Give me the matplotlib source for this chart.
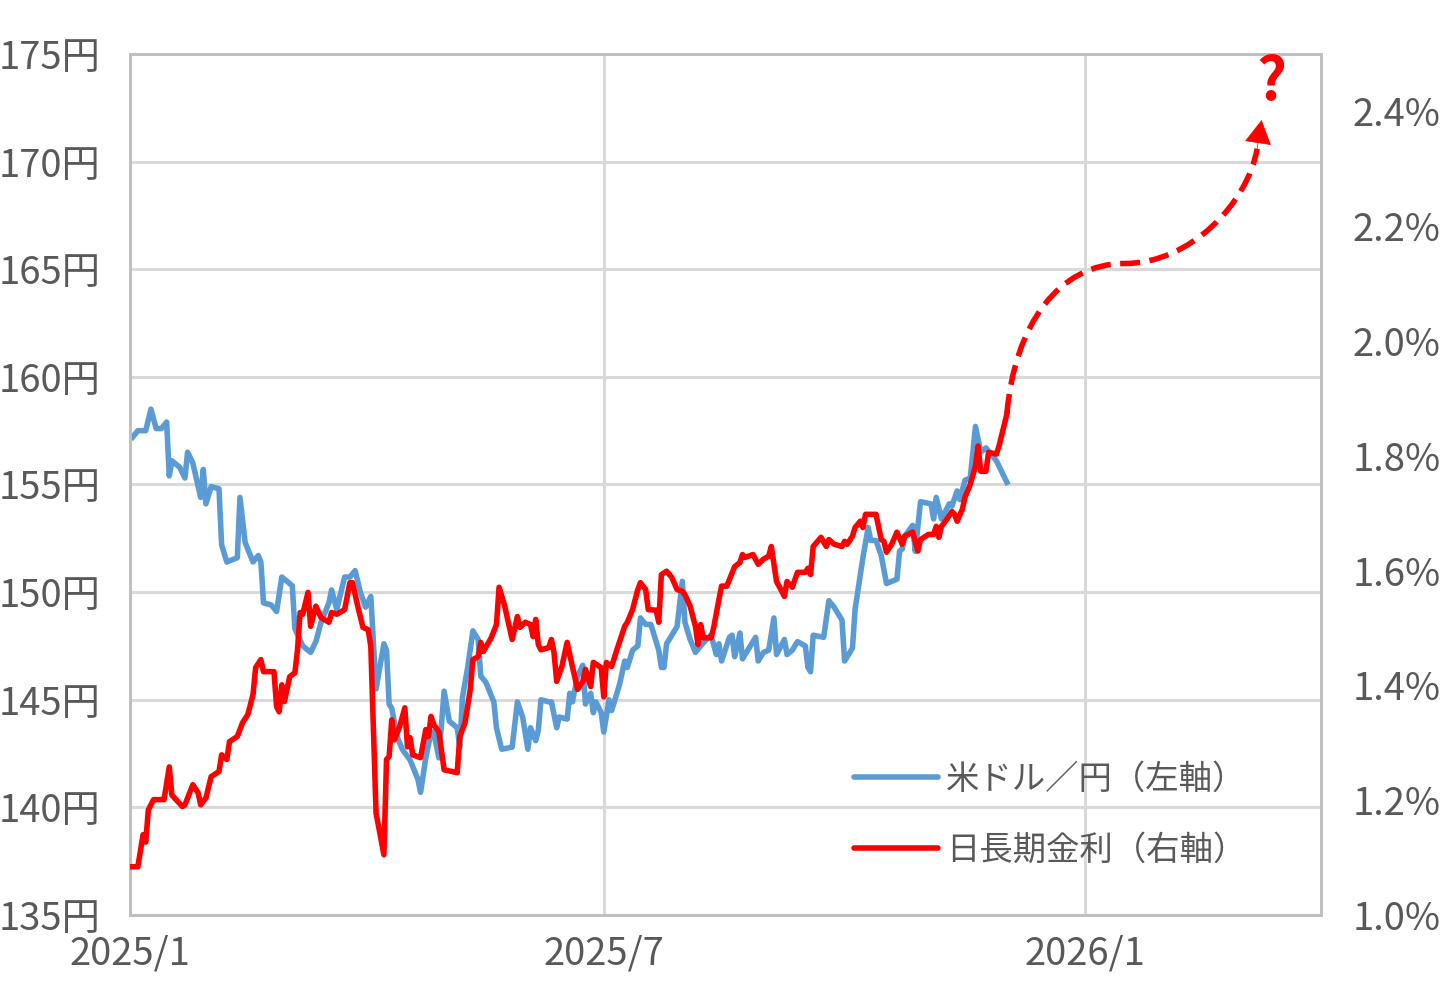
import numpy as np
import pandas as pd
import matplotlib
matplotlib.use('Agg')
import matplotlib.pyplot as plt
import matplotlib.dates as mdates
from matplotlib.path import Path
from matplotlib.patches import PathPatch

plt.rcParams['font.family'] = ['Noto Sans CJK JP', 'DejaVu Sans']

BASE = pd.Timestamp('2025-01-01')

# USD/JPY (left axis), days after 2025-01-01
usd_days = [1, 3, 6, 8, 10, 12, 14, 15, 16, 19, 21, 22, 24, 27, 28, 29, 31, 34, 35, 37,
            41, 42, 44, 47, 49, 50, 51, 54, 56, 58, 62, 63, 66, 69, 71, 73, 76, 77, 79, 82,
            84, 86, 88, 90, 92, 94, 97, 98, 99, 100, 102, 104, 107, 110, 111, 113, 115, 116, 118, 120,
            122, 125, 126, 127, 129, 131, 133, 134, 136, 139, 140, 142, 146, 148, 150, 152, 153, 155, 156, 157,
            160, 161, 163, 164, 167, 168, 169, 171, 173, 174, 176, 177, 178, 180, 181, 183, 184, 187, 189, 190,
            192, 194, 195, 197, 199, 202, 203, 204, 205, 209, 211, 212, 214, 216, 218, 221, 222, 224, 225, 226,
            229, 230, 231, 232, 233, 234, 236, 239, 240, 242, 244, 246, 247, 250, 251, 253, 255, 258, 259, 260,
            261, 265, 267, 269, 272, 273, 276, 277, 280, 282, 283, 285, 287, 289, 293, 294, 295, 296, 299, 300,
            302, 306, 307, 308, 310, 313, 314, 316, 317, 319, 321, 323, 325, 327, 329, 331, 335]
usd_jpy = [157.2, 157.5, 157.5, 158.5, 157.6, 157.6, 157.9, 155.4, 156.1, 155.8, 155.3, 156.5, 156.0, 154.4, 155.7, 154.1, 154.9, 154.8, 152.2, 151.4,
           151.6, 154.4, 152.3, 151.4, 151.7, 151.4, 149.5, 149.4, 149.1, 150.7, 150.3, 148.3, 147.5, 147.2, 147.7, 148.6, 149.5, 150.1, 149.2, 150.7,
           150.7, 151.0, 150.0, 149.3, 149.8, 145.5, 147.6, 147.3, 144.8, 144.6, 143.3, 142.7, 142.2, 141.3, 140.7, 142.3, 143.5, 143.5, 142.3, 145.4,
           144.0, 143.7, 142.8, 145.1, 146.5, 148.2, 147.8, 146.1, 145.8, 144.9, 143.7, 142.7, 142.8, 144.9, 144.2, 142.7, 143.7, 143.1, 143.6, 145.0,
           144.9, 144.9, 143.7, 144.2, 144.1, 145.3, 144.9, 146.1, 146.6, 144.8, 145.3, 144.4, 144.9, 144.4, 143.5, 145.0, 144.5, 145.7, 146.8, 146.5,
           147.3, 147.5, 148.8, 148.5, 148.5, 147.3, 146.5, 146.5, 147.6, 148.4, 150.5, 148.6, 147.8, 147.2, 147.5, 147.9, 148.0, 147.1, 147.6, 146.8,
           147.9, 148.0, 147.0, 147.5, 148.1, 146.9, 147.3, 147.9, 146.8, 147.2, 147.3, 148.8, 147.1, 147.8, 147.1, 147.3, 147.7, 147.5, 146.5, 146.3,
           148.0, 147.9, 149.6, 149.3, 148.7, 146.8, 147.4, 149.2, 151.6, 153.0, 152.4, 152.4, 151.7, 150.4, 150.6, 151.9, 152.0, 152.6, 153.1, 151.9,
           154.2, 154.1, 153.4, 154.4, 153.4, 154.1, 154.0, 154.7, 154.3, 155.2, 155.3, 157.7, 156.5, 156.7, 156.4, 156.1, 155.1]

# Japan 10y yield (right axis, %)
jgb_days = [0, 3, 5, 6, 7, 9, 13, 15, 16, 17, 20, 21, 24, 26, 27, 29, 31, 34, 35, 37,
            38, 41, 43, 45, 47, 48, 50, 51, 55, 56, 57, 58, 59, 61, 63, 64, 65, 66, 68, 69,
            71, 73, 76, 77, 79, 82, 84, 85, 87, 89, 91, 92, 94, 97, 98, 99, 100, 101, 103, 105,
            106, 107, 108, 111, 113, 114, 115, 116, 118, 120, 125, 126, 128, 130, 131, 133, 134, 135, 138, 140,
            141, 143, 146, 148, 149, 151, 153, 154, 155, 156, 157, 160, 161, 162, 163, 165, 167, 169, 171, 173,
            174, 176, 177, 180, 181, 182, 184, 186, 189, 190, 192, 194, 195, 197, 198, 201, 202, 203, 205, 207,
            209, 211, 212, 214, 216, 217, 218, 219, 222, 223, 225, 226, 228, 231, 233, 234, 235, 238, 240, 242,
            244, 245, 247, 249, 250, 251, 253, 255, 258, 259, 260, 261, 264, 266, 267, 269, 272, 273, 274, 276,
            277, 279, 280, 281, 285, 287, 288, 289, 291, 293, 295, 296, 299, 301, 302, 305, 307, 308, 309, 310,
            312, 314, 315, 316, 318, 319, 321, 323, 324, 325, 327, 328, 331, 332, 335]
jgb_yield = [1.084, 1.084, 1.140, 1.127, 1.183, 1.201, 1.201, 1.258, 1.209, 1.204, 1.189, 1.192, 1.227, 1.213, 1.192, 1.204, 1.241, 1.250, 1.279, 1.271,
             1.302, 1.311, 1.335, 1.349, 1.384, 1.431, 1.445, 1.424, 1.424, 1.363, 1.354, 1.401, 1.372, 1.415, 1.422, 1.462, 1.527, 1.524, 1.562, 1.503,
             1.538, 1.518, 1.510, 1.527, 1.524, 1.532, 1.579, 1.579, 1.538, 1.501, 1.497, 1.468, 1.178, 1.105, 1.271, 1.276, 1.340, 1.305, 1.328, 1.361,
             1.293, 1.309, 1.279, 1.274, 1.323, 1.311, 1.346, 1.332, 1.319, 1.253, 1.248, 1.311, 1.335, 1.393, 1.445, 1.450, 1.475, 1.459, 1.483, 1.506,
             1.571, 1.541, 1.480, 1.520, 1.501, 1.510, 1.506, 1.485, 1.515, 1.471, 1.462, 1.466, 1.480, 1.457, 1.407, 1.433, 1.475, 1.433, 1.393, 1.407,
             1.428, 1.398, 1.440, 1.431, 1.380, 1.440, 1.433, 1.462, 1.503, 1.510, 1.532, 1.567, 1.579, 1.567, 1.532, 1.531, 1.510, 1.593, 1.599, 1.588,
             1.567, 1.564, 1.558, 1.538, 1.503, 1.471, 1.506, 1.483, 1.483, 1.501, 1.550, 1.573, 1.573, 1.607, 1.614, 1.628, 1.623, 1.628, 1.611, 1.620,
             1.625, 1.642, 1.581, 1.564, 1.555, 1.581, 1.571, 1.597, 1.597, 1.604, 1.593, 1.642, 1.658, 1.642, 1.654, 1.646, 1.642, 1.651, 1.646, 1.660,
             1.675, 1.686, 1.675, 1.698, 1.698, 1.654, 1.651, 1.632, 1.646, 1.667, 1.646, 1.660, 1.667, 1.634, 1.654, 1.663, 1.663, 1.677, 1.658, 1.677,
             1.689, 1.703, 1.698, 1.686, 1.707, 1.728, 1.750, 1.782, 1.817, 1.773, 1.773, 1.806, 1.803, 1.817, 1.873]

# Illustrative outlook curve (Bezier control points: days, %)
outlook_days = [335, 338, 355, 380, 405, 427, 430.6]
outlook_yield = [1.873, 2.03, 2.135, 2.135, 2.135, 2.24, 2.335]
arrow_tip = (432.3, 2.385)
question_pos = (436, 2.45)

left_ticks = [135, 140, 145, 150, 155, 160, 165, 170, 175]
left_labels = [f'{v}円' for v in left_ticks]
right_ticks = [1.0, 1.2, 1.4, 1.6, 1.8, 2.0, 2.2, 2.4]
right_labels = [f'{v:.1f}%' for v in right_ticks]
x_ticks = ['2025-01-01', '2025-07-01', '2026-01-01']
x_labels = ['2025/1', '2025/7', '2026/1']
series_labels = ['米ドル／円（左軸）', '日長期金利（右軸）']

BLUE = '#5B9BD5'
RED = '#FF0000'
TXT = '#595959'
GRID = '#D9D9D9'
TICK_FS = 27.5


def to_num(days):
    return mdates.date2num(BASE + pd.to_timedelta(np.asarray(days, dtype=float), unit='D'))


fig = plt.figure(figsize=(14.56, 9.88), dpi=100)
ax = fig.add_axes([130 / 1456, 1 - 915 / 988, (1321 - 130) / 1456, (915 - 54) / 988])
ax2 = ax.twinx()

l1, = ax.plot(to_num(usd_days), usd_jpy, color=BLUE, lw=4.0, solid_joinstyle='round',
              label=series_labels[0], zorder=3)
l2, = ax2.plot(to_num(jgb_days), jgb_yield, color=RED, lw=4.0, solid_joinstyle='round',
               label=series_labels[1], zorder=3)

ax.set_xlim(mdates.date2num(pd.Timestamp('2025-01-01')), mdates.date2num(pd.Timestamp('2026-04-01')))
ax.set_ylim(135, 175)
ax2.set_ylim(1.0, 2.5)

ax.set_yticks(left_ticks)
ax.set_yticklabels(left_labels)
ax2.set_yticks(right_ticks)
ax2.set_yticklabels(right_labels)
ax.set_xticks(mdates.date2num(pd.to_datetime(x_ticks)))
ax.set_xticklabels(x_labels)

ax.grid(True, color=GRID, lw=2.2)
ax.set_axisbelow(True)
ax.tick_params(axis='both', length=0, labelsize=TICK_FS, colors=TXT)
ax.tick_params(axis='y', pad=21)
ax.tick_params(axis='x', pad=14)
ax2.tick_params(axis='y', length=0, labelsize=TICK_FS, colors=TXT, pad=23)
for a in (ax, ax2):
    for s in a.spines.values():
        s.set_color('#C0C0C0')
        s.set_linewidth(2)

# outlook dashed curve
xs = to_num(outlook_days)
verts = list(zip(xs, outlook_yield))
codes = [Path.MOVETO, Path.CURVE4, Path.CURVE4, Path.CURVE4, Path.CURVE4, Path.CURVE4, Path.CURVE4]
patch = PathPatch(Path(verts, codes), facecolor='none', edgecolor=RED, lw=4.0,
                  linestyle=(0, (3.6, 1.7)), zorder=4)
ax2.add_patch(patch)
ax2.annotate('', xy=(to_num([arrow_tip[0]])[0], arrow_tip[1]),
             xytext=(xs[-1], outlook_yield[-1]),
             arrowprops=dict(arrowstyle='-|>,head_length=0.8,head_width=0.45', color=RED,
                             lw=0.5, mutation_scale=20, shrinkA=0, shrinkB=0), zorder=4)
ax2.text(to_num([question_pos[0]])[0], question_pos[1], '?', color=RED, fontsize=42,
         fontweight='bold', ha='center', va='center', family=['Noto Sans CJK JP', 'DejaVu Sans'])

leg = ax2.legend(handles=[l1, l2], loc='upper left', bbox_to_anchor=(841 / 1456, 1 - 748 / 988),
                 bbox_transform=fig.transFigure, frameon=False, fontsize=24, handlelength=2.5,
                 handletextpad=0.25, labelspacing=1.1, borderaxespad=0)
for t in leg.get_texts():
    t.set_color(TXT)
for h in leg.legend_handles:
    h.set_solid_capstyle('round')

fig.savefig('out.png', dpi=100)
